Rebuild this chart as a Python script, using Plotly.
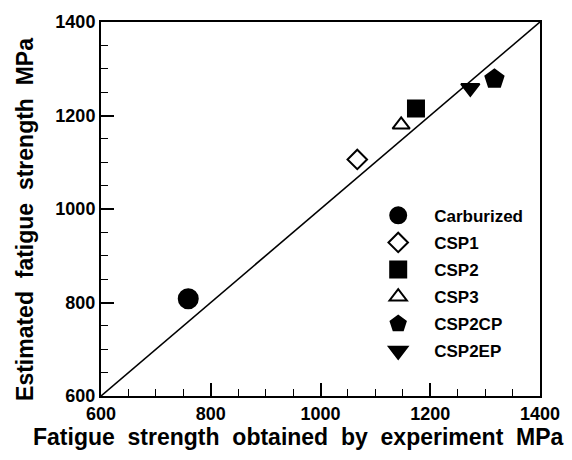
import plotly.graph_objects as go

series_names = ["Carburized", "CSP1", "CSP2", "CSP3", "CSP2CP", "CSP2EP"]
exp_values = [759, 1067, 1174, 1147, 1317, 1273]
est_values = [808, 1106, 1215, 1180, 1278, 1259]
symbols = ["circle", "diamond-open", "square", "triangle-up-open", "pentagon", "triangle-down"]
sizes = [19, 15, 16, 15, 19, 16]
diag = [600, 1400]
tick_vals = [600, 800, 1000, 1200, 1400]

FONT = "Liberation Sans, Arial, sans-serif"

fig = go.Figure()
fig.add_trace(go.Scatter(x=diag, y=diag, mode="lines",
                         line=dict(color="black", width=1.6),
                         showlegend=False, hoverinfo="skip"))
for i, n in enumerate(series_names):
    fig.add_trace(go.Scatter(
        x=[exp_values[i]], y=[est_values[i]], mode="markers", name=n,
        legendgroup=n,
        marker=dict(symbol=symbols[i], size=sizes[i], color="black",
                    line=dict(color="black", width=2)),
    ))

axis_common = dict(
    tickvals=tick_vals, ticks="inside", ticklen=13, tickwidth=1.5,
    tickcolor="black", showline=True, linecolor="black", linewidth=2,
    mirror=True, showgrid=False, zeroline=False,
    tickfont=dict(family=FONT, size=18, color="black", weight="bold"),
    minor=dict(dtick=50, ticks="inside", ticklen=7, tickwidth=1.2, tickcolor="black"),
)

fig.update_xaxes(range=[600, 1400], **axis_common)
fig.update_yaxes(range=[600, 1400], **axis_common)

fig.update_layout(
    width=572, height=460,
    margin=dict(l=101, r=29, t=15, b=64),
    paper_bgcolor="white", plot_bgcolor="white",
    showlegend=True,
    legend=dict(x=0.595, y=0.53, xanchor="left", yanchor="top",
                font=dict(family=FONT, size=17, color="black", weight="bold"),
                bgcolor="rgba(0,0,0,0)", itemwidth=62, tracegroupgap=2),
    annotations=[
        dict(text="Fatigue  strength  obtained  by  experiment  MPa",
             xref="paper", yref="paper", x=0.45, y=-0.11,
             xanchor="center", yanchor="middle", showarrow=False,
             font=dict(family=FONT, size=23, color="black", weight="bold")),
        dict(text="Estimated  fatigue  strength  MPa",
             xref="paper", yref="paper", x=-0.172, y=0.472,
             xanchor="center", yanchor="middle", textangle=-90, showarrow=False,
             font=dict(family=FONT, size=23, color="black", weight="bold")),
    ],
)

fig.write_html("out.html")
